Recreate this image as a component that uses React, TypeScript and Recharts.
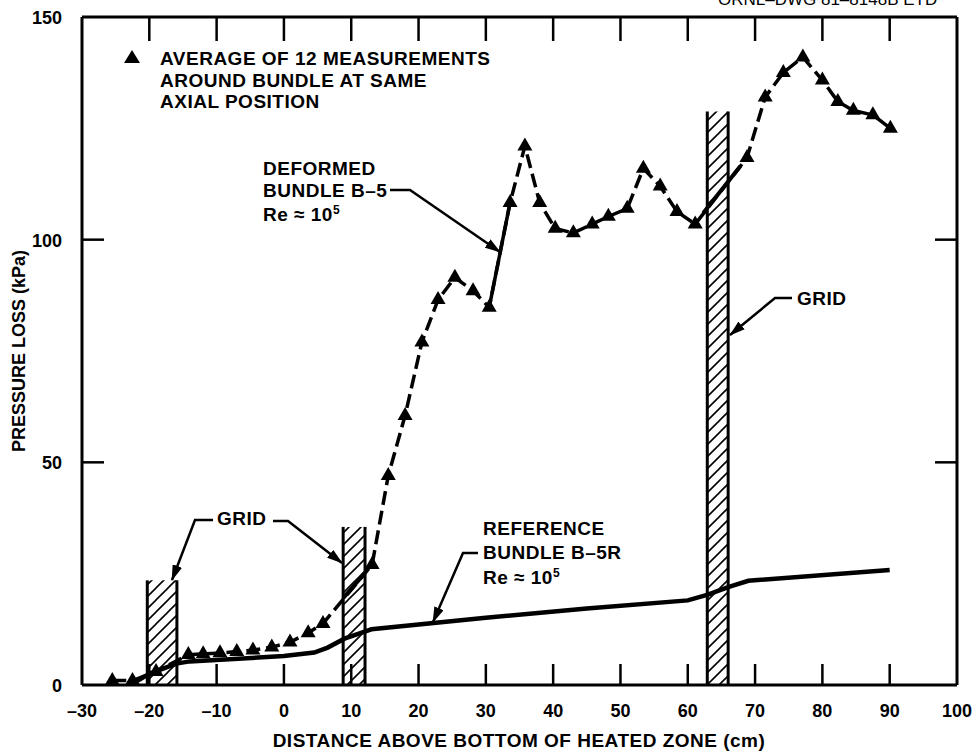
import React from 'react';
import {
  ComposedChart,
  Line,
  Scatter,
  XAxis,
  YAxis,
  ReferenceArea,
  ReferenceLine,
} from 'recharts';

// ---- tick labels ----
const xTicks = [-30, -20, -10, 0, 10, 20, 30, 40, 50, 60, 70, 80, 90, 100];
const yTicks = [0, 50, 100, 150];

// ---- Deformed bundle B-5 (triangles, average of 12 measurements) ----
const b5X = [-25.5, -22.5, -19, -14.2, -12, -9.5, -7, -4.6, -1.8, 0.9, 3.6, 5.8, 13.1, 15.5, 18.0, 20.5, 22.9, 25.4, 28.1, 30.5, 33.6, 35.8, 38.0, 40.3, 43.0, 45.8, 48.2, 51.0, 53.4, 55.9, 58.4, 61.1, 68.8, 71.5, 74.2, 77.1, 80.0, 82.3, 84.6, 87.5, 90.1];
const b5Y = [1, 1, 3, 6.8, 7, 7.2, 7.5, 7.8, 8.5, 9.6, 11.7, 13.8, 27, 47, 60.5, 77, 86.5, 91.5, 88.5, 84.8, 108.3, 121, 108.3, 102.5, 101.5, 103.5, 105.2, 107, 116, 112, 106.3, 103.5, 118.4, 132, 137.5, 141, 135.8, 131, 129, 128, 125];

// solid stretches of the B-5 curve (through grids and the steep rise)
const b5SolidA_X = [8.8, 12.0];
const b5SolidA_Y = [19.5, 25.1];
const b5SolidB_X = [30.5, 33.6];
const b5SolidB_Y = [84.8, 108.3];
const b5SolidC_X = [62.3, 67.8];
const b5SolidC_Y = [106, 116.5];

// ---- Reference bundle B-5R ----
const refX = [-22.5, -20, -16, -14, 0, 4.5, 6.5, 9, 12, 13, 30, 45, 60, 63, 66, 69, 90];
const refY = [0.3, 2.5, 4.8, 5.3, 6.5, 7.3, 8.4, 10.4, 12, 12.5, 15.1, 17.2, 19, 20.3, 22, 23.4, 25.8];

// ---- Grid spacers (hatched) ----
const gridStart = [-20.3, 8.8, 62.9];
const gridEnd = [-15.9, 12.05, 66.0];
const gridTop = [23.5, 35.5, 128.8];

const zip = (xs: number[], ys: number[]) => xs.map((x, i) => ({ x, y: ys[i] }));
const b5Data = zip(b5X, b5Y);
const refData = zip(refX, refY);
const solidA = zip(b5SolidA_X, b5SolidA_Y);
const solidB = zip(b5SolidB_X, b5SolidB_Y);
const solidC = zip(b5SolidC_X, b5SolidC_Y);

const FONT = "'Liberation Sans', Arial, Helvetica, sans-serif";
const fmt = (v: number) => (v < 0 ? '\u2013' + Math.abs(v) : String(v));

const BottomTick = (p: any) => {
  const { x, y, payload } = p;
  const v = payload.value;
  const inner = v > -30 && v < 100;
  return (
    <g>
      {inner && <line x1={x} x2={x} y1={y} y2={y - 21} stroke="#000" strokeWidth={2.5} />}
      <text x={x} y={y + 32} textAnchor="middle" fontFamily={FONT} fontWeight="bold" fontSize={18} fill="#000">
        {fmt(v)}
      </text>
    </g>
  );
};

const TopTick = (p: any) => {
  const { x, y, payload } = p;
  const v = payload.value;
  if (!(v > -30 && v < 100)) return <g />;
  return <line x1={x} x2={x} y1={y} y2={y + 24} stroke="#000" strokeWidth={2.5} />;
};

const LeftTick = (p: any) => {
  const { x, y, payload } = p;
  const v = payload.value;
  const inner = v > 0 && v < 150;
  return (
    <g>
      {inner && <line x1={x} x2={x + 22} y1={y} y2={y} stroke="#000" strokeWidth={2.5} />}
      <text x={x - 20} y={y + 7} textAnchor="end" fontFamily={FONT} fontWeight="bold" fontSize={18} fill="#000">
        {v}
      </text>
    </g>
  );
};

const RightTick = (p: any) => {
  const { x, y, payload } = p;
  const v = payload.value;
  if (!(v > 0 && v < 150)) return <g />;
  return <line x1={x} x2={x - 22} y1={y} y2={y} stroke="#000" strokeWidth={2.5} />;
};

const Tri = (p: any) => {
  const { cx, cy } = p;
  if (cx == null || cy == null) return <g />;
  const w = 15;
  const h = 13;
  return (
    <polygon
      points={`${cx},${cy - (2 * h) / 3} ${cx - w / 2},${cy + h / 3} ${cx + w / 2},${cy + h / 3}`}
      fill="#000"
    />
  );
};

const txt = { fontFamily: FONT, fontWeight: 'bold' as const, fontSize: 19, fill: '#000', letterSpacing: 0.5 };
const lead = { stroke: '#000', strokeWidth: 2.5, fill: 'none', markerEnd: 'url(#arrowHead)' };

export default function App() {
  return (
    <div style={{ position: 'absolute', left: 0, top: 0, background: '#fff' }}>
      <ComposedChart width={976} height={753} margin={{ top: 0, right: 0, bottom: 0, left: 0 }}>
        <defs>
          <pattern id="hatch" patternUnits="userSpaceOnUse" width="12" height="12">
            <path d="M-3,3 L3,-3 M0,12 L12,0 M9,15 L15,9" stroke="#000" strokeWidth="1.6" />
          </pattern>
          <marker id="arrowHead" markerUnits="userSpaceOnUse" markerWidth="16" markerHeight="10" refX="15" refY="5" orient="auto" viewBox="0 0 16 10">
            <path d="M0,0 L16,5 L0,10 Z" fill="#000" />
          </marker>
        </defs>

        <XAxis
          xAxisId={0}
          dataKey="x"
          type="number"
          domain={[-30, 100]}
          ticks={xTicks}
          interval={0}
          allowDataOverflow
          height={68}
          tickLine={false}
          tickSize={0}
          tickMargin={0}
          axisLine={{ stroke: '#000', strokeWidth: 3 }}
          tick={<BottomTick />}
        />
        <XAxis
          xAxisId="top"
          orientation="top"
          dataKey="x"
          type="number"
          domain={[-30, 100]}
          ticks={xTicks}
          interval={0}
          allowDataOverflow
          height={17}
          tickLine={false}
          tickSize={0}
          tickMargin={0}
          axisLine={{ stroke: '#000', strokeWidth: 3 }}
          tick={<TopTick />}
        />
        <YAxis
          yAxisId={0}
          type="number"
          domain={[0, 150]}
          ticks={yTicks}
          interval={0}
          allowDataOverflow
          width={82}
          tickLine={false}
          tickSize={0}
          tickMargin={0}
          axisLine={{ stroke: '#000', strokeWidth: 3 }}
          tick={<LeftTick />}
        />
        <YAxis
          yAxisId="right"
          orientation="right"
          type="number"
          domain={[0, 150]}
          ticks={yTicks}
          interval={0}
          allowDataOverflow
          width={19}
          tickLine={false}
          tickSize={0}
          tickMargin={0}
          axisLine={{ stroke: '#000', strokeWidth: 3 }}
          tick={<RightTick />}
        />

        {gridStart.map((s, i) => (
          <ReferenceArea key={'ga' + i} x1={s} x2={gridEnd[i]} y1={0} y2={gridTop[i]} fill="url(#hatch)" fillOpacity={1} stroke="none" ifOverflow="visible" />
        ))}
        {gridStart.map((s, i) => (
          <ReferenceLine key={'gl' + i} segment={[{ x: s, y: 0 }, { x: s, y: gridTop[i] }]} stroke="#000" strokeWidth={3} ifOverflow="visible" />
        ))}
        {gridEnd.map((s, i) => (
          <ReferenceLine key={'gr' + i} segment={[{ x: s, y: 0 }, { x: s, y: gridTop[i] }]} stroke="#000" strokeWidth={3} ifOverflow="visible" />
        ))}

        <Line data={refData} dataKey="y" type="linear" stroke="#000" strokeWidth={4.5} dot={false} isAnimationActive={false} />
        <Line data={b5Data} dataKey="y" type="linear" stroke="#000" strokeWidth={3.5} strokeDasharray="14 6" dot={false} isAnimationActive={false} />
        <Line data={solidA} dataKey="y" type="linear" stroke="#000" strokeWidth={4} dot={false} isAnimationActive={false} />
        <Line data={solidB} dataKey="y" type="linear" stroke="#000" strokeWidth={3.5} dot={false} isAnimationActive={false} />
        <Line data={solidC} dataKey="y" type="linear" stroke="#000" strokeWidth={4} dot={false} isAnimationActive={false} />
        <Scatter data={b5Data} dataKey="y" fill="#000" shape={<Tri />} isAnimationActive={false} />

        {/* axis titles */}
        <text x={519} y={747} textAnchor="middle" fontFamily={FONT} fontWeight="bold" fontSize={19} letterSpacing={0.5} fill="#000">
          DISTANCE ABOVE BOTTOM OF HEATED ZONE (cm)
        </text>
        <text x={25} y={351} transform="rotate(-90 25 351)" textAnchor="middle" fontFamily={FONT} fontWeight="bold" fontSize={18} fill="#000">
          PRESSURE LOSS (kPa)
        </text>

        {/* drawing number (cut at top) */}
        <text x={718} y={5} fontFamily={FONT} fontSize={17} fill="#000">
          ORNL–DWG 81–8148B ETD
        </text>

        {/* legend */}
        <polygon points="132,50 124,63 140,63" fill="#000" />
        <text x={160} y={65} {...txt}>AVERAGE OF 12 MEASUREMENTS</text>
        <text x={160} y={87} {...txt}>AROUND BUNDLE AT SAME</text>
        <text x={160} y={108} {...txt}>AXIAL POSITION</text>

        {/* deformed bundle label */}
        <text x={263} y={175} {...txt}>DEFORMED</text>
        <text x={263} y={197} {...txt}>BUNDLE B–5</text>
        <text x={263} y={221} {...txt}>
          Re ≈ 10<tspan dy={-7} fontSize={12}>5</tspan>
        </text>
        <polyline points="390,190 410,190 500,252" {...lead} />

        {/* grid labels */}
        <text x={217} y={525} {...txt}>GRID</text>
        <polyline points="213,520 195,520 172,580" {...lead} />
        <polyline points="273,521 288,521 342,563" {...lead} />
        <text x={797} y={305} {...txt}>GRID</text>
        <polyline points="792,298 775,298 730,335" {...lead} />

        {/* reference bundle label */}
        <text x={483} y={535} {...txt}>REFERENCE</text>
        <text x={483} y={559} {...txt}>BUNDLE B–5R</text>
        <text x={483} y={584} {...txt}>
          Re ≈ 10<tspan dy={-7} fontSize={12}>5</tspan>
        </text>
        <polyline points="478,553 463,553 433,622" {...lead} />
      </ComposedChart>
    </div>
  );
}
